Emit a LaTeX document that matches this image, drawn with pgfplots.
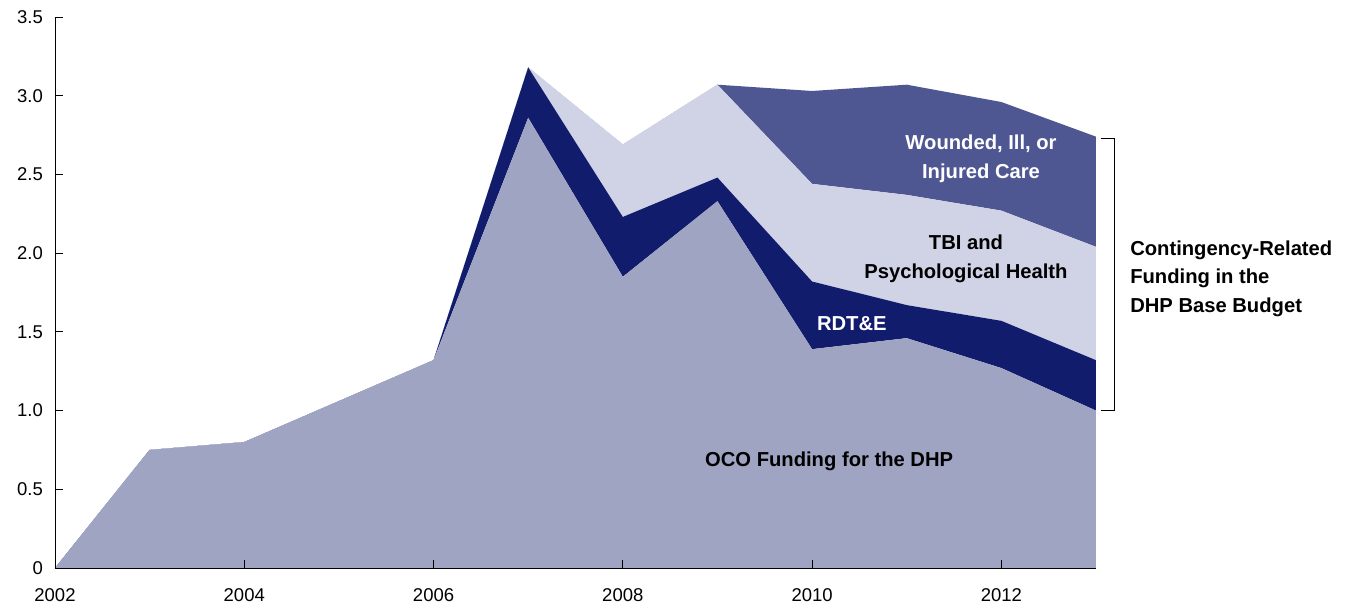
\documentclass[border=0pt]{standalone}
\usepackage{fontspec}
\setmainfont{Liberation Sans}
\usepackage{pgfplots}
\pgfplotsset{compat=1.18}
\definecolor{oco}{HTML}{A0A4C3}
\definecolor{rdte}{HTML}{111C6C}
\definecolor{tbi}{HTML}{D0D3E5}
\definecolor{wii}{HTML}{4F5793}
\pgfplotstableread{
year oco rdte tbi wii
2002 0    0    0    0
2003 0.75 0    0    0
2004 0.80 0    0    0
2005 1.06 0    0    0
2006 1.32 0    0    0
2007 2.86 0.32 0    0
2008 1.85 0.38 0.46 0
2009 2.33 0.15 0.59 0
2010 1.39 0.43 0.62 0.59
2011 1.46 0.21 0.70 0.70
2012 1.27 0.30 0.70 0.69
2013 1.00 0.32 0.72 0.70
}\data
\begin{document}
\fontsize{18pt}{22pt}\selectfont
\begin{tikzpicture}
\useasboundingbox (-55pt,-39pt) rectangle (1291pt,568pt);
\begin{axis}[
  at={(0,0)}, anchor=origin,
  scale only axis, width=1041pt, height=551pt,
  xmin=2002, xmax=2013, ymin=0, ymax=3.5,
  axis x line=bottom, axis y line=left,
  axis line style={-, black, line width=0.9pt},
  tick align=inside, major tick length=8pt,
  tick style={black, line width=0.9pt},
  xtick={2002,2004,2006,2008,2010,2012},
  xticklabels={2002,2004,2006,2008,2010,2012},
  ytick={0,0.5,1,1.5,2,2.5,3,3.5},
  yticklabels={0,0.5,1.0,1.5,2.0,2.5,3.0,3.5},
  ticklabel style={font=\fontsize{18.5pt}{22pt}\selectfont},
  /pgf/number format/assume math mode=true,
  xticklabel style={yshift=-14pt},
  yticklabel style={xshift=-6pt},
  stack plots=y,
  axis on top,
  clip=false,
]
\addplot[fill=oco, draw=none] table[x=year, y=oco] {\data} \closedcycle;
\addplot[fill=rdte, draw=none] table[x=year, y=rdte] {\data} \closedcycle;
\addplot[fill=tbi, draw=none] table[x=year, y=tbi] {\data} \closedcycle;
\addplot[fill=wii, draw=none] table[x=year, y=wii] {\data} \closedcycle;
\end{axis}
\begin{axis}[
  at={(0,0)}, anchor=origin,
  scale only axis, width=1041pt, height=551pt,
  xmin=2002, xmax=2013, ymin=0, ymax=3.5,
  hide axis, clip=false,
]
\node[font=\fontsize{20.2pt}{28.5pt}\selectfont\bfseries, text=white, align=center] at (axis cs:2011.785,2.60) {Wounded, Ill, or\\Injured Care};
\node[font=\fontsize{20.2pt}{28.5pt}\selectfont\bfseries, text=black, align=center] at (axis cs:2011.626,1.965) {TBI and\\Psychological Health};
\node[font=\fontsize{20.2pt}{28.5pt}\selectfont\bfseries, text=white] at (axis cs:2010.42,1.555) {RDT\&E};
\node[font=\fontsize{20.2pt}{28.5pt}\selectfont\bfseries, text=black] at (axis cs:2010.18,0.68) {OCO Funding for the DHP};
\node[font=\fontsize{20.2pt}{28.5pt}\selectfont\bfseries, text=black, align=left, anchor=west, inner sep=0pt] at (axis cs:2013.36,1.84) {Contingency-Related\\Funding in the\\DHP Base Budget};
\draw[black, line width=0.9pt] (axis cs:2013.05,2.73) -- (axis cs:2013.2,2.73) -- (axis cs:2013.2,1.0) -- (axis cs:2013.05,1.0);
\end{axis}
\end{tikzpicture}
\end{document}
